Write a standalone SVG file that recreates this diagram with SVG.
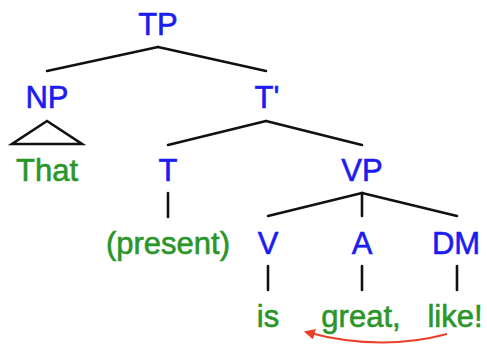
<svg xmlns="http://www.w3.org/2000/svg" width="487" height="345" viewBox="0 0 487 345">
  <defs>
    <style>
      .cat { font-family: "Liberation Sans", Arial, sans-serif; font-size: 31px; fill: #1c1cf0; stroke: #1c1cf0; stroke-width: 0.6; text-anchor: middle; }
      .word { font-family: "Liberation Sans", Arial, sans-serif; font-size: 31px; fill: #2a962a; stroke: #2a962a; stroke-width: 0.6; text-anchor: middle; }
      .edge { stroke: #111; stroke-width: 2.6; fill: none; stroke-linecap: round; }
      .move { stroke: #e8402a; stroke-width: 2; fill: none; }
    </style>
    <marker id="redhead" viewBox="0 0 10 10" refX="8" refY="5" markerWidth="11" markerHeight="11" orient="auto" markerUnits="userSpaceOnUse">
      <path d="M0,0 L10,5 L0,10 Z" fill="#e8402a"/>
    </marker>
  </defs>
  <rect width="487" height="345" fill="#ffffff"/>

  <g id="connectors">
    <path class="edge" d="M158,47 L47,71"/>
    <path class="edge" d="M158,47 L266,71"/>
    <path class="edge" d="M47,121 L12,144 L82,144 Z" stroke-linejoin="miter"/>
    <path class="edge" d="M266,121 L168,145"/>
    <path class="edge" d="M266,121 L362,145"/>
    <path class="edge" d="M168,193 L168,217"/>
    <path class="edge" d="M362,193 L268,216"/>
    <path class="edge" d="M362,193 L362,216"/>
    <path class="edge" d="M362,193 L457,216"/>
    <path class="edge" d="M268,266 L268,290"/>
    <path class="edge" d="M362,266 L362,290"/>
    <path class="edge" d="M457,266 L457,290"/>
    <path class="move" d="M447,334 Q380,352 306,332" marker-end="url(#redhead)"/>
  </g>

  <g id="TP"><text class="cat" x="158" y="35">TP</text></g>
  <g id="NP"><text class="cat" x="47" y="108">NP</text></g>
  <g id="Tbar"><text class="cat" x="267" y="108">T'</text></g>
  <g id="That"><text class="word" x="47" y="181">That</text></g>
  <g id="T"><text class="cat" x="168" y="181">T</text></g>
  <g id="VP"><text class="cat" x="362" y="181">VP</text></g>
  <g id="present"><text class="word" x="168" y="254">(present)</text></g>
  <g id="V"><text class="cat" x="268" y="254">V</text></g>
  <g id="A"><text class="cat" x="362" y="254">A</text></g>
  <g id="DM"><text class="cat" x="456" y="254">DM</text></g>
  <g id="is"><text class="word" x="268" y="327">is</text></g>
  <g id="great"><text class="word" x="361" y="327">great,</text></g>
  <g id="like"><text class="word" x="455" y="327">like!</text></g>
</svg>
